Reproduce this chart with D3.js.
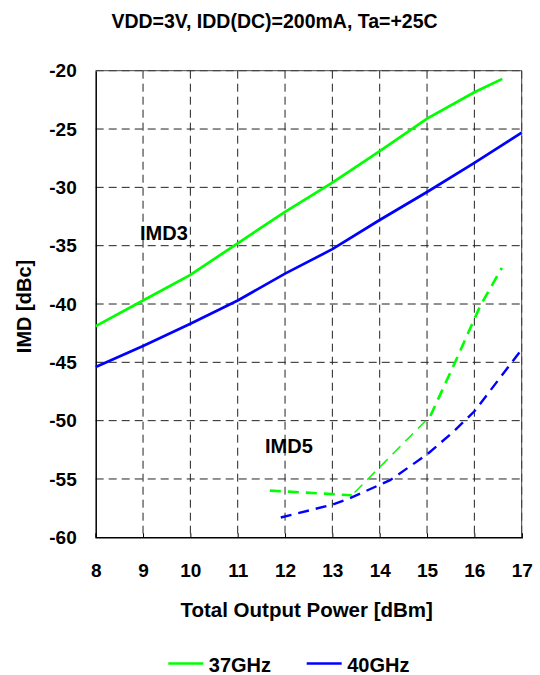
<!DOCTYPE html>
<html><head><meta charset="utf-8">
<script src="https://cdn.jsdelivr.net/npm/d3@7"></script>
<style>body{margin:0;background:#fff}svg{display:block}text{font-family:Arial,"Liberation Sans",sans-serif;font-weight:bold;fill:#000}</style>
</head><body><svg id="c" width="540" height="675"></svg>
<script>
const title = "VDD=3V, IDD(DC)=200mA, Ta=+25C";
const xLabel = "Total Output Power [dBm]";
const yLabel = "IMD [dBc]";
const xTicks = [8,9,10,11,12,13,14,15,16,17];
const yTicks = [-20,-25,-30,-35,-40,-45,-50,-55,-60];
const seriesNames = ["37GHz","40GHz"];
const seriesColors = ["#00ff00","#0000ff"];

const imd3_37_x = [8, 9, 10, 11, 12, 13, 14, 15, 16, 16.59];
const imd3_37_y = [-41.9, -39.7, -37.5, -34.8, -32.1, -29.6, -26.9, -24.1, -21.85, -20.7];
const imd3_40_x = [8, 9, 10, 11, 12, 13, 14, 15, 16, 17];
const imd3_40_y = [-45.4, -43.6, -41.7, -39.7, -37.4, -35.3, -32.8, -30.4, -27.9, -25.3];
const imd5_37_x = [11.68, 13.0, 13.41, 14.29, 15.07, 15.57, 16.12, 16.58];
const imd5_37_y = [-56.0, -56.3, -56.4, -52.8, -49.6, -45.2, -40.2, -36.9];
const imd5_40_x = [11.91, 13.0, 13.37, 14.22, 15.0, 15.57, 16.0, 16.51, 17.0];
const imd5_40_y = [-58.3, -57.2, -56.65, -55.1, -52.9, -50.9, -49.2, -46.5, -43.9];

const FF = "Arial, Liberation Sans, sans-serif";
const svg = d3.select("#c");
const L=95.7, R=521.7, T=70.7, B=537.3;
const x = d3.scaleLinear().domain([8,17]).range([L,R]);
const y = d3.scaleLinear().domain([-60,-20]).range([B,T]);

// grid
const g = svg.append("g");
g.selectAll(".vg").data(xTicks.slice(1)).join("line")
  .attr("x1",d=>x(d)).attr("x2",d=>x(d)).attr("y1",T).attr("y2",B)
  .attr("stroke","#222").attr("stroke-width",1).attr("stroke-dasharray","8,5");
g.selectAll(".hg").data(yTicks.slice(0,-1)).join("line")
  .attr("x1",L).attr("x2",R).attr("y1",d=>y(d)).attr("y2",d=>y(d))
  .attr("stroke","#222").attr("stroke-width",1).attr("stroke-dasharray","8,5");

// axes
const xa = svg.append("g").attr("transform",`translate(0,${B})`)
  .call(d3.axisBottom(x).tickValues(xTicks).tickSize(-4).tickPadding(26).tickFormat(d=>String(d)));
xa.select(".domain").attr("stroke","#000").attr("stroke-width",1.5);
xa.selectAll(".tick line").attr("stroke","#000");
xa.selectAll("text").attr("font-size",19).attr("font-weight","bold").attr("font-family",FF);
const ya = svg.append("g").attr("transform",`translate(${L},0)`)
  .call(d3.axisLeft(y).tickValues(yTicks).tickSize(0).tickPadding(19).tickFormat(d=>String(d)));
ya.select(".domain").attr("stroke","#000").attr("stroke-width",1.5);
ya.selectAll("text").attr("font-size",19).attr("font-weight","bold").attr("font-family",FF);

const line = d3.line().x(d=>x(d[0])).y(d=>y(d[1]));
const zip=(a,b)=>a.map((v,i)=>[v,b[i]]);
const plot = svg.append("g");
plot.append("path").attr("d",line(zip(imd3_37_x,imd3_37_y))).attr("fill","none").attr("stroke",seriesColors[0]).attr("stroke-width",2.7);
plot.append("path").attr("d",line(zip(imd3_40_x,imd3_40_y))).attr("fill","none").attr("stroke",seriesColors[1]).attr("stroke-width",2.7);
// IMD5 37GHz: thin middle section
const p37 = zip(imd5_37_x,imd5_37_y);
plot.append("path").attr("d",line(p37.slice(0,3))).attr("fill","none").attr("stroke",seriesColors[0]).attr("stroke-width",2.6).attr("stroke-dasharray","11,7");
plot.append("path").attr("d",line(p37.slice(2,5))).attr("fill","none").attr("stroke",seriesColors[0]).attr("stroke-width",1.5).attr("stroke-dasharray","11,7").attr("stroke-dashoffset",-4);
plot.append("path").attr("d",line(p37.slice(4))).attr("fill","none").attr("stroke",seriesColors[0]).attr("stroke-width",2.6).attr("stroke-dasharray","11,7");
plot.append("path").attr("d",line(zip(imd5_40_x,imd5_40_y))).attr("fill","none").attr("stroke",seriesColors[1]).attr("stroke-width",2.4).attr("stroke-dasharray","11,7");

// frame top/right
svg.append("line").attr("x1",L).attr("x2",R).attr("y1",T).attr("y2",T).attr("stroke","#444").attr("stroke-width",1);
svg.append("line").attr("x1",R).attr("x2",R).attr("y1",T).attr("y2",B).attr("stroke","#444").attr("stroke-width",1);

// labels
svg.append("text").attr("x",140).attr("y",239.5).attr("font-size",20).text("IMD3");
svg.append("text").attr("x",265).attr("y",452.7).attr("font-size",20).text("IMD5");

svg.append("text").attr("x",274.5).attr("y",27.5).attr("text-anchor","middle").attr("font-size",19.5).text(title);
svg.append("text").attr("x",306.7).attr("y",617).attr("text-anchor","middle").attr("font-size",20.5).text(xLabel);
svg.append("text").attr("transform","translate(31,306.5) rotate(-90)").attr("text-anchor","middle").attr("font-size",20).text(yLabel);

// legend
const lx=[168.3,306.7];
seriesNames.forEach((n,i)=>{
  svg.append("line").attr("x1",lx[i]).attr("x2",lx[i]+35).attr("y1",663.5).attr("y2",663.5).attr("stroke",seriesColors[i]).attr("stroke-width",2.5);
  svg.append("text").attr("x",lx[i]+40.5).attr("y",671.5).attr("font-size",20).text(n);
});
</script></body></html>
